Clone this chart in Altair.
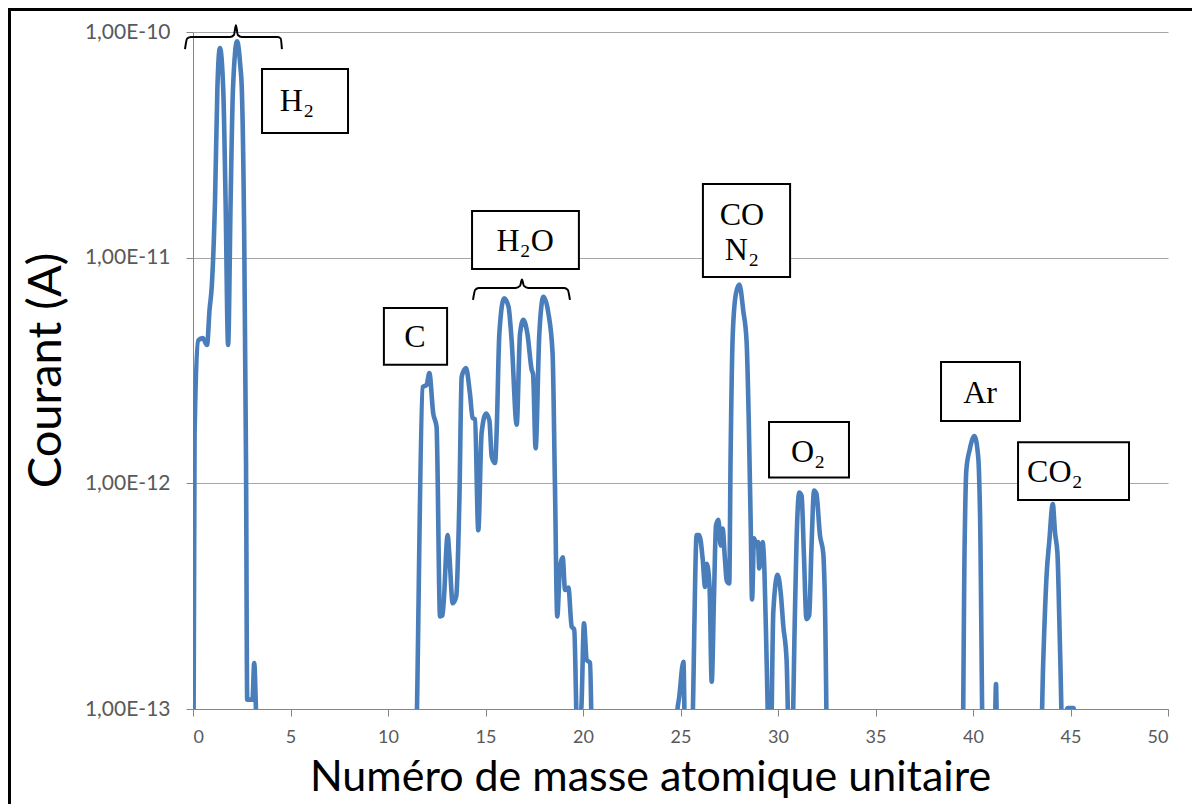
import altair as alt
import pandas as pd

# ---- spectrum trace (x: mass number, y: current in A) ----
mass = [
    0.02, 0.08, 0.27, 0.5, 0.72, 0.85, 0.96, 1.13, 1.25, 1.38, 1.55, 1.67, 1.8, 1.93, 2.05, 2.26,
    2.43, 2.5, 2.63, 2.72, 2.78, 3.05, 3.14, 3.22, 3.3,
    7.0, 11.38,
    11.78, 11.98, 12.12, 12.32, 12.49, 12.67, 12.8, 13.06, 13.14, 13.32, 13.5, 13.66, 13.78, 14.0,
    14.2, 14.34, 14.46, 14.63, 14.8, 15.03, 15.2, 15.32, 15.49, 15.57, 15.71, 15.95, 16.18, 16.34,
    16.6, 16.77, 16.94, 17.15, 17.37, 17.44, 17.57, 17.76, 17.97, 18.22, 18.44, 18.56, 18.68,
    18.82, 18.96, 19.08, 19.25, 19.42, 19.55, 19.7, 19.85, 19.92, 20.05, 20.19, 20.36, 20.5,
    22.5, 24.7,
    24.8, 24.94, 25.15, 25.24, 25.57, 25.83, 25.96, 26.14, 26.26, 26.35, 26.49, 26.6, 26.72,
    26.82, 26.94, 27.06, 27.16, 27.28, 27.37, 27.5, 27.57, 27.68, 27.85, 28.02, 28.22, 28.39,
    28.5, 28.6, 28.67, 28.77, 28.9, 28.97, 29.04, 29.21, 29.3, 29.42, 29.55, 29.62, 29.76, 29.98,
    30.15, 30.27, 30.44, 30.58, 30.7, 30.87, 30.95, 31.09, 31.21, 31.33, 31.46, 31.6, 31.72,
    31.85, 31.97, 32.15, 32.32, 32.4, 32.55,
    36.0, 39.45,
    39.57, 39.66, 39.83, 40.07, 40.27, 40.36, 40.53, 41.08, 41.18, 41.26,
    43.44, 43.6, 43.78, 43.91, 44.09, 44.21, 44.33, 44.46, 44.62, 44.75, 44.85, 45.15, 45.25,
    46.0, 50.0,
]
current = [
    5e-14, 1.65e-12, 4.3e-12, 4.4e-12, 4.1e-12, 5.9e-12, 7.4e-12, 1.8e-11, 5.6e-11, 8.5e-11,
    5.6e-11, 1.8e-11, 4.1e-12, 1.8e-11, 5.6e-11, 9.1e-11,
    7.0e-11, 5.7e-11, 1.15e-11, 1.2e-12, 1.1e-13, 1.1e-13, 1.6e-13, 1.05e-13, 5e-14,
    5e-14, 5e-14,
    2.67e-12, 2.73e-12, 3.08e-12, 2.04e-12, 1.78e-12, 2.57e-13, 2.6e-13, 5.9e-13, 4.9e-13,
    2.94e-13, 3.16e-13, 8.4e-13, 2.97e-12, 3.24e-12,
    2.51e-12, 1.95e-12, 1.92e-12, 6.2e-13, 1.67e-12, 2.04e-12, 1.9e-12, 1.31e-12, 1.23e-12,
    1.67e-12, 4.6e-12, 6.6e-12, 6.07e-12, 4.3e-12,
    1.82e-12, 4.6e-12, 5.3e-12, 4.6e-12, 3.18e-12, 3.05e-12, 1.43e-12, 4.6e-12, 6.7e-12,
    5.7e-12, 3.77e-12, 1.0e-12, 2.57e-13,
    4.27e-13, 4.7e-13, 3.37e-13, 3.45e-13, 2.32e-13, 2.25e-13, 8e-14, 9e-14, 1.03e-13, 2.4e-13,
    1.65e-13, 1.6e-13, 5e-14,
    5e-14, 5e-14,
    9e-14, 1.14e-13, 1.62e-13, 7e-14, 7e-14, 5.9e-13, 5.9e-13, 4.6e-13, 3.47e-13, 4.4e-13,
    3.47e-13, 1.32e-13, 3.2e-13,
    6.5e-13, 6.9e-13, 5.3e-13, 6.3e-13, 4.6e-13, 3.7e-13, 3.6e-13, 1.33e-12, 4.57e-12, 6.98e-12,
    7.6e-12, 5.8e-12, 4.25e-12,
    1.9e-12, 6.6e-13, 3.06e-13, 5.7e-13, 5.3e-13, 5.5e-13, 4.2e-13, 5.5e-13, 4.2e-13, 1.6e-13,
    6e-14, 6e-14, 2.7e-13, 3.93e-13,
    3.2e-13, 2.34e-13, 1.65e-13, 6e-14, 6e-14, 2.7e-13, 5.5e-13, 9.1e-13, 8.8e-13, 4.8e-13,
    2.5e-13, 2.6e-13, 5.3e-13,
    9.3e-13, 9.0e-13, 5.9e-13, 4.9e-13, 3.2e-13, 5e-14,
    5e-14, 5e-14,
    5.3e-13, 1.15e-12, 1.41e-12, 1.62e-12, 1.3e-12, 7.4e-13, 5e-14, 5e-14, 1.29e-13, 5e-14,
    5e-14, 1.6e-13, 4.0e-13, 5.5e-13, 8.1e-13, 6.0e-13, 4.9e-13, 1.9e-13, 6e-14, 9.5e-14,
    1.01e-13, 1.01e-13, 9e-14,
    5e-14, 5e-14,
]

# ---- labelled boxes ----
box_x0 = [3.54, 14.31, 9.79, 26.15, 29.54, 38.36, 42.31]
box_x1 = [7.95, 19.79, 13.03, 30.62, 33.64, 42.41, 48.0]
box_top = [6.86e-11, 1.61e-11, 5.98e-12, 2.12e-11, 1.87e-12, 3.45e-12, 1.52e-12]
box_bot = [3.57e-11, 8.91e-12, 3.35e-12, 8.21e-12, 1.06e-12, 1.89e-12, 8.43e-13]

label_text = ["H₂", "H₂O", "C", "CO", "N₂", "O₂", "Ar", "CO₂"]
label_x = [5.33, 17.03, 11.38, 28.15, 28.15, 31.54, 40.36, 44.2]
label_y = [4.94e-11, 1.19e-11, 4.46e-12, 1.545e-11, 1.08e-11, 1.38e-12, 2.51e-12, 1.12e-12]

# ---- curly braces ----
brace_id = ["H2"] * 11 + ["H2O"] * 11
brace_x = [-0.41, -0.3, -0.1, 1.9, 2.1, 2.2, 2.3, 2.5, 4.35, 4.5, 4.56,
           14.36, 14.47, 14.65, 16.55, 16.77, 16.87, 16.97, 17.19, 19.04, 19.22, 19.33]
brace_y = [8.4e-11, 9.35e-11, 9.5e-11, 9.5e-11, 9.7e-11, 1.07e-10, 9.7e-11, 9.5e-11, 9.5e-11, 9.35e-11, 8.4e-11,
           6.5e-12, 7.2e-12, 7.34e-12, 7.34e-12, 7.5e-12, 8.0e-12, 7.5e-12, 7.34e-12, 7.34e-12, 7.2e-12, 6.5e-12]

y_ticks = [1e-13, 1e-12, 1e-11, 1e-10]
x_ticks = [0, 5, 10, 15, 20, 25, 30, 35, 40, 45, 50]

spec = pd.DataFrame({"mass": mass, "current": current})
boxes = pd.DataFrame({"x0": box_x0, "x1": box_x1, "top": box_top, "bot": box_bot})
labels = pd.DataFrame({"t": label_text, "x": label_x, "y": label_y})
braces = pd.DataFrame({"id": brace_id, "x": brace_x, "y": brace_y})

xs = alt.Scale(domain=[0, 50], nice=False, zero=False)
ys = alt.Scale(type="log", domain=[1e-13, 1e-10], nice=False)

FONT = "Lato"
GRAY = "#595959"

xa = alt.Axis(values=x_ticks, title="Numéro de masse atomique unitaire",
              grid=False, domainColor="#868686", tickColor="#868686",
              tickSize=7, labelFont=FONT, labelFontSize=18, labelColor=GRAY,
              labelPadding=12, titleFont=FONT, titleFontSize=43,
              titleFontWeight="normal", titleColor="black",
              titleX=457, titleY=81, titleBaseline="alphabetic")
ya = alt.Axis(values=y_ticks, title="Courant (A)",
              labelExpr="'1,00E-' + format(-log(datum.value)/LN10, '.0f')",
              grid=True, gridColor="#a6a6a6", domainColor="#868686",
              tickColor="#868686", tickSize=7, labelFont=FONT,
              labelFontSize=21, labelColor=GRAY, labelPadding=16,
              titleFont=FONT, titleFontSize=47, titleFontWeight="normal",
              titleColor="black", titleX=-147, titleY=338, titleBaseline="middle")

line = alt.Chart(spec).mark_line(
    color="#4a7ebb", strokeWidth=4.6, interpolate="monotone", clip=True
).encode(
    x=alt.X("mass:Q", scale=xs, axis=xa),
    y=alt.Y("current:Q", scale=ys, axis=ya),
    order="mass:Q",
)

brace_layer = alt.Chart(braces).mark_line(
    color="black", strokeWidth=2, interpolate="monotone", clip=False
).encode(
    x=alt.X("x:Q", scale=xs, axis=xa),
    y=alt.Y("y:Q", scale=ys, axis=ya),
    detail="id:N",
)

box_layer = alt.Chart(boxes).mark_rect(
    fill="white", stroke="black", strokeWidth=2
).encode(
    x=alt.X("x0:Q", scale=xs, axis=xa), x2="x1:Q",
    y=alt.Y("top:Q", scale=ys, axis=ya), y2="bot:Q",
)

text_layer = alt.Chart(labels).mark_text(
    font="Liberation Serif", fontSize=32, color="black", baseline="middle", align="center"
).encode(
    x=alt.X("x:Q", scale=xs, axis=xa),
    y=alt.Y("y:Q", scale=ys, axis=ya),
    text="t:N",
)

frame = alt.Chart(pd.DataFrame({"a": [1]})).mark_rect(
    fill=None, stroke="black", strokeWidth=3, clip=False
).encode(
    x=alt.value(-183.5), x2=alt.value(1100), y=alt.value(-22.5), y2=alt.value(900)
)

chart = alt.layer(line, box_layer, text_layer, brace_layer, frame).properties(
    width=975, height=677,
    padding={"left": 185, "top": 24, "right": 24, "bottom": 95},
    autosize=alt.AutoSizeParams(type="none"),
).configure_view(stroke=None)

chart.save("out.html", embed_options={"renderer": "svg", "actions": False})
